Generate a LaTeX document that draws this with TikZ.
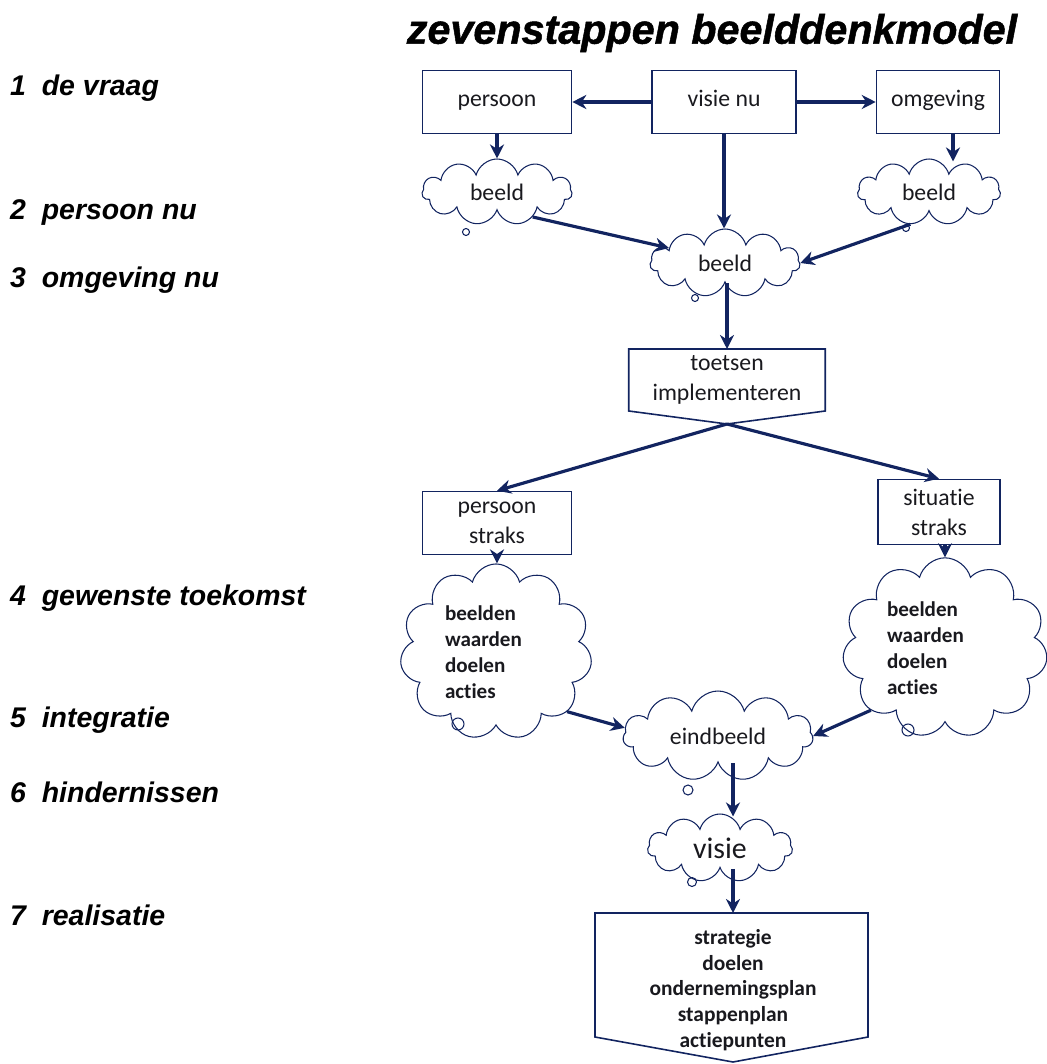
\documentclass[tikz,border=0pt]{standalone}
\usepackage{fontspec}
\setmainfont{Carlito}[Ligatures=CommonOff]
\newfontfamily\headfont{Liberation Sans}
\newfontfamily\titelfont{Liberation Sans}[BoldItalicFeatures={FakeBold=1.2}]
\usepackage{tikz}
\usetikzlibrary{shapes.symbols, arrows.meta, positioning, calc}

\definecolor{navy}{RGB}{18,36,96}
\definecolor{ink}{RGB}{25,25,30}

\begin{document}
\begin{tikzpicture}[x=0.02cm, y=-0.02cm,
    box/.style={draw=navy, line width=0.9pt, rectangle, text=ink, align=center, font=\fontsize{13.5}{17}\selectfont},
    eenregel/.style={text height=1.6ex, text depth=0.5ex},
    wolk/.style={draw=navy, line width=0.6pt, cloud, cloud puffs=11, cloud ignores aspect, text=ink, align=center, font=\fontsize{13.5}{17}\selectfont},
    lijst/.style={align=left, font=\bfseries\fontsize{12}{14.7}\selectfont},
    pijl/.style={draw=navy, line width=1.8pt, -{Stealth[length=8pt, width=8pt]}},
    stap/.style={anchor=west, text=black, font=\headfont\bfseries\itshape\fontsize{16.2}{19}\selectfont}]
    \useasboundingbox (0,0) rectangle (1046,1064);

    \node (titel) at (712,33) [font=\titelfont\bfseries\itshape\fontsize{23.5}{26}\selectfont] {zevenstappen beelddenkmodel};

    % stappen links
    \node (s1) at (4,88) [stap] {1~ de vraag};
    \node (s2) at (4,213) [stap] {2~ persoon nu};
    \node (s3) at (4,280) [stap] {3~ omgeving nu};
    \node (s4) at (4,598) [stap] {4~ gewenste toekomst};
    \node (s5) at (4,720) [stap] {5~ integratie};
    \node (s6) at (4,792) [stap] {6~ hindernissen};
    \node (s7) at (4,915) [stap] {7~ realisatie};

    % vraag
    \node (pnu) at (497,102) [box, eenregel, minimum width=2.98cm, minimum height=1.26cm] {persoon};
    \node (visienu) at (724,102) [box, eenregel, minimum width=2.88cm, minimum height=1.26cm] {visie nu};
    \node (omgnu) at (938,102) [box, eenregel, minimum width=2.46cm, minimum height=1.26cm] {omgeving};

    \node (beeldp) at (497,192) [wolk, minimum width=3cm, minimum height=1.32cm] {beeld};
    \node (beeldo) at (929,192) [wolk, minimum width=2.86cm, minimum height=1.32cm] {beeld};
    \node (beeldc) at (725,263) [wolk, minimum width=3cm, minimum height=1.36cm] {beeld};

    \node (toets) at (727,380) [box, draw=none, minimum width=3.9cm, minimum height=1.1cm] {toetsen\\implementeren};
    \coordinate (toetspunt) at ($(toets.south)+(0,13)$);
    \draw [navy, line width=0.9pt] (toets.north west) -- (toets.north east) -- (toets.south east) -- (toetspunt) -- (toets.south west) -- cycle;

    % toekomst
    \node (pstraks) at (497,523) [box, minimum width=2.98cm, minimum height=1.26cm] {persoon\\straks};
    \node (sstraks) at (939,512) [box, minimum width=2.44cm, minimum height=1.3cm] {situatie\\straks};

    \node (wensp) at (496,652) [wolk, lijst, minimum width=3.84cm, minimum height=3.1cm, text width=2.04cm] {beelden\\waarden\\doelen\\acties};
    \node (wenso) at (945,648) [wolk, lijst, minimum width=4.06cm, minimum height=3.1cm, text width=2.32cm] {beelden\\waarden\\doelen\\acties};

    \node (eind) at (718,736) [wolk, minimum width=3.8cm, minimum height=1.8cm] {eindbeeld};
    \node (visie) at (720,848) [wolk, minimum width=2.9cm, minimum height=1.36cm, font=\fontsize{17}{20}\selectfont] {visie};

    \node (strat) at (733,990) [text=ink, align=center, font=\bfseries\fontsize{12.2}{14.7}\selectfont] {strategie\\doelen\\ondernemingsplan\\stappenplan\\actiepunten};
    \coordinate (stratin) at (733,913);
    \draw [navy, line width=0.9pt] (595,913) -- (868,913) -- (868,1037) -- (733,1062) -- (595,1037) -- cycle;

    % denkwolkjes
    \foreach \x/\y/\r in {466/232/3.5, 906/228/3.5, 695/298/3.5, 458/724/6, 908/730/6, 688/790/5, 692/882/4.5}
        \draw [navy, line width=0.6pt] (\x,\y) circle [radius=\r];

    % pijlen
    \coordinate (omgvoet) at ($(omgnu.south)+(15,0)$);
    \draw [pijl] (visienu) -- (pnu);
    \draw [pijl] (visienu) -- (omgnu);
    \draw [pijl] (pnu) -- (beeldp);
    \draw [pijl] (omgvoet) -- ($(omgvoet |- beeldo.north)+(0,3)$);
    \draw [pijl] (visienu) -- (visienu |- beeldc.north);
    \draw [pijl] (beeldp.-35) -- (beeldc.165);
    \draw [pijl] (beeldo.-120) -- (beeldc.east);
    \draw [pijl] (beeldc.south -| toets.north) -- (toets.north);
    \draw [pijl] (toetspunt) -- (pstraks.north);
    \draw [pijl] (toetspunt) -- (sstraks.north);
    \draw [pijl] (pstraks) -- (pstraks |- wensp.north);
    \draw [pijl] (sstraks.south -| wenso.north) -- (wenso.north);
    \draw [pijl] (wensp.-40) -- (eind.175);
    \draw [pijl] (wenso.-140) -- (eind.east);
    \draw [pijl] (eind.south -| stratin) -- ($(visie.north -| stratin)+(0,3)$);
    \draw [pijl] (visie.south -| stratin) -- (stratin);
\end{tikzpicture}
\end{document}
